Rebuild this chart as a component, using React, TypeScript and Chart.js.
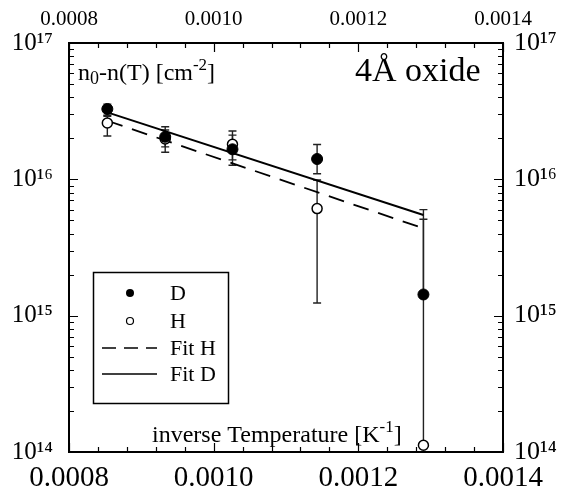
import React, { useEffect, useRef } from 'react';
import { Chart, registerables } from 'chart.js';
Chart.register(...registerables);

const invT = [0.000853, 0.000933, 0.001026, 0.001143, 0.00129];
const dValues = [3.28e16, 2.05e16, 1.66e16, 1.41e16, 1.43e15];
const dErrLow = [2.95e16, 1.73e16, 1.27e16, 1.1e16, 1.43e15];
const dErrHigh = [3.56e16, 2.43e16, 2.11e16, 1.8e16, 6.0e15];
const hValues = [2.59e16, 1.98e16, 1.81e16, 6.1e15, 1.12e14];
const hErrLow = [2.08e16, 1.58e16, 1.39e16, 1.24e15, 1.12e14];
const hErrHigh = [2.9e16, 2.3e16, 2.26e16, 9.9e15, 5.1e15];
const fitX = [0.000853, 0.00129];
const fitD = [3.1e16, 5.47e15];
const fitH = [2.69e16, 4.37e15];
const xTicks = [0.0008, 0.001, 0.0012, 0.0014];
const xMinorTicks = [0.0008, 0.00084, 0.00088, 0.00092, 0.00096, 0.001, 0.00104, 0.00108, 0.00112, 0.00116, 0.0012, 0.00124, 0.00128, 0.00132, 0.00136, 0.0014];
const yTicks = [1e14, 1e15, 1e16, 1e17];
const yMinorMult = [2, 3, 4, 5, 6, 7, 8, 9];

const FONT = "'Liberation Serif', 'Times New Roman', serif";
const SUP: Record<string, string> = { '0': '⁰', '1': '¹', '2': '²', '3': '³', '4': '⁴', '5': '⁵', '6': '⁶', '7': '⁷', '8': '⁸', '9': '⁹', '-': '⁻' };
const supStr = (s: string) => s.split('').map((c) => SUP[c] || c).join('');
const yLabel = (v: number) => '10' + supStr(String(Math.round(Math.log10(v))));

const errorBarPlugin = {
  id: 'errorBars',
  beforeDatasetsDraw(chart: any) {
    const { ctx, scales } = chart;
    const xs = scales.x, ys = scales.y;
    ctx.save();
    ctx.strokeStyle = '#222';
    ctx.lineWidth = 1.4;
    const draw = (vals: number[], lo: number[], hi: number[]) => {
      vals.forEach((v, i) => {
        const px = xs.getPixelForValue(invT[i]);
        const pl = ys.getPixelForValue(lo[i]);
        const ph = ys.getPixelForValue(hi[i]);
        ctx.beginPath();
        ctx.moveTo(px, pl);
        ctx.lineTo(px, ph);
        if (lo[i] !== v) { ctx.moveTo(px - 4, pl); ctx.lineTo(px + 4, pl); }
        if (hi[i] !== v) { ctx.moveTo(px - 4, ph); ctx.lineTo(px + 4, ph); }
        ctx.stroke();
      });
    };
    draw(dValues, dErrLow, dErrHigh);
    draw(hValues, hErrLow, hErrHigh);
    ctx.restore();
  },
};

const ticksPlugin = {
  id: 'inwardTicks',
  afterDatasetsDraw(chart: any) {
    const { ctx, chartArea: a, scales } = chart;
    const xs = scales.x, ys = scales.y;
    ctx.save();
    ctx.strokeStyle = '#000';
    ctx.lineWidth = 1.2;
    ctx.beginPath();
    xMinorTicks.forEach((v) => {
      const px = Math.round(xs.getPixelForValue(v)) + 0.5;
      const major = xTicks.some((t) => Math.abs(t - v) < 1e-9);
      const L = major ? 9 : 5;
      ctx.moveTo(px, a.bottom); ctx.lineTo(px, a.bottom - L);
      ctx.moveTo(px, a.top); ctx.lineTo(px, a.top + L);
    });
    yTicks.forEach((t, idx) => {
      const py = Math.round(ys.getPixelForValue(t)) + 0.5;
      ctx.moveTo(a.left, py); ctx.lineTo(a.left + 9, py);
      ctx.moveTo(a.right, py); ctx.lineTo(a.right - 9, py);
      if (idx < yTicks.length - 1) {
        yMinorMult.forEach((m) => {
          const pm = Math.round(ys.getPixelForValue(t * m)) + 0.5;
          ctx.moveTo(a.left, pm); ctx.lineTo(a.left + 5, pm);
          ctx.moveTo(a.right, pm); ctx.lineTo(a.right - 5, pm);
        });
      }
    });
    ctx.stroke();
    ctx.restore();
  },
};

const textPlugin = {
  id: 'annotations',
  afterDraw(chart: any) {
    const { ctx, chartArea: a } = chart;
    ctx.save();
    ctx.fillStyle = '#000';
    ctx.textBaseline = 'alphabetic';
    ctx.textAlign = 'left';
    const parts: [string, number, number][] = [
      ['n', 24, 0], ['0', 18, 4], ['-n(T) [cm', 24, 0], ['-2', 17, -10], [']', 24, 0],
    ];
    let x = a.left + 9;
    const base = a.top + 37;
    parts.forEach(([t, size, dy]) => {
      ctx.font = `${size}px ${FONT}`;
      ctx.fillText(t, x, base + dy);
      x += ctx.measureText(t).width;
    });
    ctx.font = `34px ${FONT}`;
    ctx.fillText('4Å oxide', a.left + 286, a.top + 38);
    const xparts: [string, number, number][] = [
      ['inverse Temperature [K', 24, 0], ['-1', 17, -10], [']', 24, 0],
    ];
    x = a.left + 83;
    const xb = a.bottom - 10;
    xparts.forEach(([t, size, dy]) => {
      ctx.font = `${size}px ${FONT}`;
      ctx.fillText(t, x, xb + dy);
      x += ctx.measureText(t).width;
    });
    const lx = a.left + 24, ly = a.top + 229, lw = 135, lh = 131;
    ctx.lineWidth = 1.5;
    ctx.strokeStyle = '#000';
    ctx.strokeRect(lx + 0.5, ly + 0.5, lw, lh);
    const mx = lx + 37;
    const tx = lx + 77;
    const rows = [ly + 21, ly + 49, ly + 76, ly + 102];
    ctx.font = `22px ${FONT}`;
    ctx.textBaseline = 'middle';
    ctx.beginPath(); ctx.arc(mx, rows[0], 4, 0, Math.PI * 2); ctx.fill();
    ctx.fillText('D', tx, rows[0] + 1);
    ctx.beginPath(); ctx.arc(mx, rows[1], 3.5, 0, Math.PI * 2);
    ctx.fillStyle = '#fff'; ctx.fill(); ctx.fillStyle = '#000';
    ctx.lineWidth = 1.2; ctx.stroke();
    ctx.fillText('H', tx, rows[1] + 1);
    ctx.lineWidth = 1.5;
    ctx.setLineDash([14, 8]);
    ctx.beginPath(); ctx.moveTo(lx + 9, rows[2]); ctx.lineTo(lx + 64, rows[2]); ctx.stroke();
    ctx.setLineDash([]);
    ctx.fillText('Fit H', tx, rows[2] + 1);
    ctx.beginPath(); ctx.moveTo(lx + 9, rows[3]); ctx.lineTo(lx + 64, rows[3]); ctx.stroke();
    ctx.fillText('Fit D', tx, rows[3] + 1);
    ctx.restore();
  },
};

export default function App() {
  const ref = useRef<HTMLCanvasElement>(null);
  useEffect(() => {
    if (!ref.current) return;
    const xCommon = (position: string, size: number, h: number, pad: number) => ({
      type: 'linear' as const,
      position,
      min: 0.0008,
      max: 0.0014,
      afterBuildTicks: (s: any) => { s.ticks = xTicks.map((v) => ({ value: v })); },
      afterFit: (s: any) => { s.height = h; },
      ticks: {
        callback: (v: any) => Number(v).toFixed(4),
        font: { family: FONT, size },
        color: '#000',
        padding: pad,
        maxRotation: 0,
        autoSkip: false,
      },
      grid: { display: false, drawTicks: false },
      border: { display: true, color: '#000', width: 2 },
    });
    const yCommon = (position: string, size: number, w: number, pad: number) => ({
      type: 'logarithmic' as const,
      position,
      min: 1e14,
      max: 1e17,
      afterBuildTicks: (s: any) => { s.ticks = yTicks.map((v) => ({ value: v })); },
      afterFit: (s: any) => { s.width = w; },
      ticks: {
        callback: (v: any) => yLabel(Number(v)),
        font: { family: FONT, size },
        color: '#000',
        padding: pad,
        autoSkip: false,
      },
      grid: { display: false, drawTicks: false },
      border: { display: true, color: '#000', width: 2 },
    });
    const chart = new Chart(ref.current, {
      type: 'scatter',
      data: {
        datasets: [
          {
            label: 'D',
            data: invT.map((x, i) => ({ x, y: dValues[i] })),
            pointRadius: 5.5,
            pointBackgroundColor: '#000',
            pointBorderColor: '#000',
            borderColor: '#000',
            backgroundColor: '#000',
            showLine: false,
            order: 0,
          },
          {
            label: 'H',
            data: invT.map((x, i) => ({ x, y: hValues[i] })),
            pointRadius: 5,
            pointBorderWidth: 1.5,
            pointBackgroundColor: '#fff',
            pointBorderColor: '#000',
            borderColor: '#000',
            backgroundColor: '#fff',
            showLine: false,
            order: 0,
          },
          {
            label: 'Fit H',
            data: fitX.map((x, i) => ({ x, y: fitH[i] })),
            showLine: true,
            borderColor: '#000',
            borderWidth: 1.8,
            borderDash: [16, 10],
            pointRadius: 0,
            order: 1,
          },
          {
            label: 'Fit D',
            data: fitX.map((x, i) => ({ x, y: fitD[i] })),
            showLine: true,
            borderColor: '#000',
            borderWidth: 2,
            pointRadius: 0,
            order: 1,
          },
        ],
      },
      options: {
        responsive: false,
        animation: false,
        layout: { padding: 0 },
        plugins: { legend: { display: false }, tooltip: { enabled: false } },
        scales: {
          x: xCommon('bottom', 29, 43, 9) as any,
          x2: xCommon('top', 21, 43, 11) as any,
          y: yCommon('left', 25, 69, 16) as any,
          y2: yCommon('right', 26, 65, 11) as any,
        },
      },
      plugins: [errorBarPlugin, ticksPlugin, textPlugin],
    });
    return () => chart.destroy();
  }, []);
  return (
    <div style={{ position: 'fixed', left: 0, top: 0, width: 568, height: 495, background: '#fff' }}>
      <canvas ref={ref} width={568} height={495} style={{ width: 568, height: 495 }} />
    </div>
  );
}
